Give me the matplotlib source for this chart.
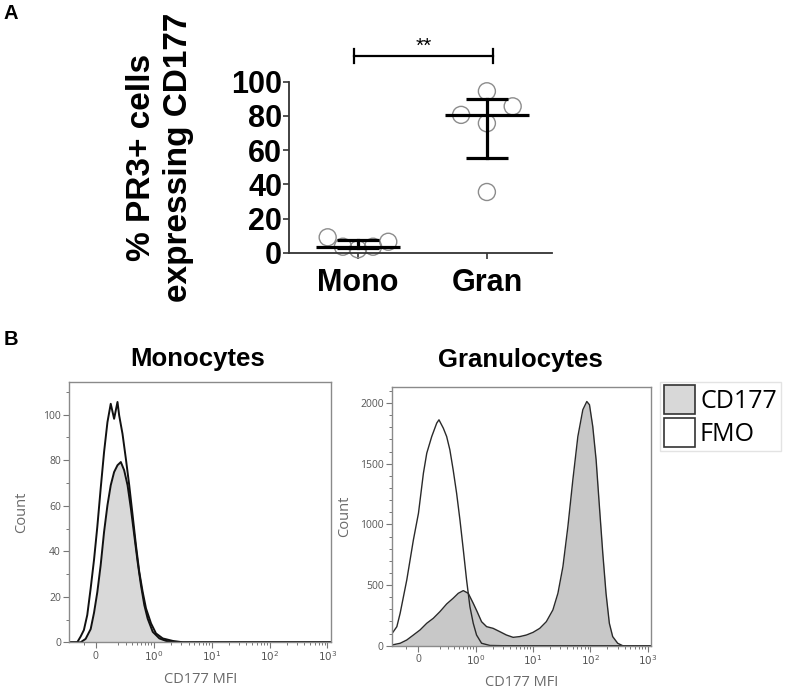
import numpy as np
import matplotlib
matplotlib.use('Agg')
import matplotlib.pyplot as plt
from matplotlib.patches import Patch
from matplotlib.ticker import FixedLocator, FixedFormatter, NullFormatter

# ---------------- Panel A data ----------------
groups = ['Mono', 'Gran']
mono_pct = [9.0, 3.5, 2.0, 3.5, 6.4]
gran_pct = [94.4, 80.6, 85.6, 75.7, 35.5]
significance = '**'
pct_ticks = [0, 20, 40, 60, 80, 100]

# ---------------- Panel B data (CD177 MFI vs Count) ----------------
mono_fmo_mfi = [-0.25, -0.160, -0.127, -0.097, -0.068, -0.040, -0.013, 0.013, 0.040, 0.068,
                0.097, 0.127, 0.160, 0.196, 0.215, 0.256, 0.302, 0.353, 0.411, 0.475,
                0.548, 0.631, 0.725, 0.891, 1.09, 1.43, 2.14, 3.2, 1150]
mono_fmo_count = [0, 0, 2.5, 5.4, 12, 23.7, 36.3, 50.7, 67.5, 83.6,
                  96.7, 104.8, 98.2, 105.6, 99.7, 91.6, 80.6, 69, 55.8, 42.7,
                  30.9, 22.2, 14.9, 8.3, 3.9, 1.7, 0.6, 0, 0]
mono_cd177_mfi = [-0.25, -0.127, -0.082, -0.040, -0.013, 0.013, 0.040, 0.068, 0.097, 0.127,
                  0.160, 0.196, 0.235, 0.278, 0.327, 0.381, 0.442, 0.511, 0.588, 0.677,
                  0.777, 0.955, 1.25, 1.64, 2.45, 1150]
mono_cd177_count = [0, 0, 1.5, 5.8, 13, 22, 33.9, 48.5, 60.2, 69,
                    74.8, 77.8, 79.2, 75.6, 69, 58.7, 47, 35.3, 25.1, 16.3,
                    10.4, 4.6, 1.7, 0.6, 0, 0]

gran_fmo_mfi = [-0.25, -0.192, -0.157, -0.094, -0.038, 0.003, 0.043, 0.071, 0.115, 0.164,
                0.188, 0.239, 0.283, 0.330, 0.384, 0.448, 0.518, 0.598, 0.686, 0.788,
                0.904, 1.036, 1.27, 1.78, 3.0, 1150]
gran_fmo_count = [100, 157, 267, 542, 872, 1092, 1422, 1587, 1724, 1835,
                  1862, 1793, 1724, 1615, 1450, 1257, 1037, 790, 542, 322,
                  185, 88, 20, 2, 0, 0]
gran_cd177_mfi = [-0.25, -0.157, -0.094, -0.038, 0.016, 0.071, 0.130, 0.199, 0.283, 0.384,
                  0.482, 0.597, 0.736, 0.903, 1.06, 1.27, 1.56, 2.03, 2.65, 3.47,
                  4.53, 5.91, 7.72, 10.1, 13.2, 17.2, 22.4, 27.4, 33.5, 40.9,
                  49.9, 61.0, 74.5, 87.4, 97.3, 111, 127, 145, 166, 189,
                  216, 247, 302, 369, 1150]
gran_cd177_count = [6, 20, 47, 88, 130, 185, 226, 281, 344, 391,
                    432, 454, 432, 350, 281, 198, 157, 143, 116, 88,
                    69, 75, 88, 110, 143, 198, 295, 432, 652, 982,
                    1367, 1724, 1945, 2013, 1986, 1807, 1532, 1147, 762, 432,
                    185, 75, 20, 0, 0]

mfi_ticks = [0, 1, 10, 100, 1000]
mfi_ticklabels = ['0', '$10^0$', '$10^1$', '$10^2$', '$10^3$']
mfi_minor = [-0.1, 0.2, 0.3, 0.4, 0.5, 0.6, 0.7, 0.8, 0.9,
             2, 3, 4, 5, 6, 7, 8, 9, 20, 30, 40, 50, 60, 70, 80, 90,
             200, 300, 400, 500, 600, 700, 800, 900]
mono_count_ticks = [0, 20, 40, 60, 80, 100]
mono_count_minor = [10, 30, 50, 70, 90, 110]
gran_count_ticks = [0, 500, 1000, 1500, 2000]
gran_count_minor = [100, 200, 300, 400, 600, 700, 800, 900, 1100, 1200, 1300, 1400,
                    1600, 1700, 1800, 1900, 2100]
legend_labels = ['CD177', 'FMO']

# ---------------- figure ----------------
W, H = 787, 696
fig = plt.figure(figsize=(W / 100, H / 100), dpi=100)


def rect(l, t, r, b):
    return [l / W, 1 - b / H, (r - l) / W, (b - t) / H]


def prism_quartiles(vals):
    v = sorted(vals)
    n = len(v)
    med = float(np.median(v))
    lower = v[: n // 2]
    upper = v[(n + 1) // 2:]
    return float(np.median(lower)), med, float(np.median(upper))


BOLD = 'Liberation Sans'

# ---- Panel A ----
axA = fig.add_axes(rect(289, 81.7, 552, 252.7))
xpos = [0, 1]
mono_off = [-0.235, -0.117, 0, 0.117, 0.235]
gran_off = [0, -0.2, 0.2, 0, 0]
for x0, vals, offs in [(xpos[0], mono_pct, mono_off), (xpos[1], gran_pct, gran_off)]:
    xs = [x0 + o for o in offs]
    axA.scatter(xs, vals, s=150, facecolors='none', edgecolors='#8c8c8c',
                linewidths=1.0, zorder=2, clip_on=False)
    q1, med, q3 = prism_quartiles(vals)
    axA.plot([x0 - 0.325, x0 + 0.325], [med, med], color='black', lw=2.3,
             zorder=3, clip_on=False, solid_capstyle='butt')
    axA.plot([x0, x0], [q1, q3], color='black', lw=2.3, zorder=3, clip_on=False)
    for q in (q1, q3):
        axA.plot([x0 - 0.165, x0 + 0.165], [q, q], color='black', lw=2.3,
                 zorder=3, clip_on=False, solid_capstyle='butt')

axA.set_xlim(-0.535, 1.505)
axA.set_ylim(0, 100)
axA.set_yticks(pct_ticks)
axA.set_xticks(xpos)
axA.set_xticklabels(groups)
for s in ('top', 'right'):
    axA.spines[s].set_visible(False)
for s in ('left', 'bottom'):
    axA.spines[s].set_color('#333333')
    axA.spines[s].set_linewidth(1.3)
axA.tick_params(axis='y', length=4, width=1.2, color='#333333', pad=1,
                labelsize=22)
axA.tick_params(axis='x', length=4, width=1.2, color='#333333', pad=7,
                labelsize=22)
for lab in axA.get_yticklabels() + axA.get_xticklabels():
    lab.set_fontfamily(BOLD)
    lab.set_fontweight('bold')

# significance bracket
axA.plot([-0.03, 1.045], [115.2, 115.2], color='black', lw=1.6, clip_on=False)
for xb in (-0.03, 1.045):
    axA.plot([xb, xb], [111.1, 118.9], color='black', lw=1.6, clip_on=False)
axA.text(0.5075, 115.4, significance, ha='center', va='bottom', fontsize=15,
         family=BOLD, clip_on=False)

fig.text(160 / W, 1 - 157 / H, '% PR3+ cells\nexpressing CD177', rotation=90,
         ha='center', va='center', multialignment='center', fontsize=24,
         family=BOLD, fontweight='bold', linespacing=1.25)
fig.text(10.5 / W, 1 - 13.5 / H, 'A', ha='center', va='center', fontsize=14.5,
         family=BOLD, fontweight='bold')
fig.text(10.5 / W, 1 - 339.5 / H, 'B', ha='center', va='center', fontsize=14.5,
         family=BOLD, fontweight='bold')

# ---- Panel B ----
LIGHT = 'Open Sans'


def style_flow(ax, ymax, yt, ym):
    ax.set_xscale('asinh', linear_width=0.2)
    ax.set_xlim(-0.25, 1150)
    ax.set_ylim(0, ymax)
    ax.xaxis.set_major_locator(FixedLocator(mfi_ticks))
    ax.xaxis.set_major_formatter(FixedFormatter(mfi_ticklabels))
    ax.xaxis.set_minor_locator(FixedLocator(mfi_minor))
    ax.xaxis.set_minor_formatter(NullFormatter())
    ax.yaxis.set_major_locator(FixedLocator(yt))
    ax.yaxis.set_minor_locator(FixedLocator(ym))
    ax.yaxis.set_minor_formatter(NullFormatter())
    for s in ax.spines.values():
        s.set_color('#8a8a8a')
        s.set_linewidth(1.0)
    ax.tick_params(which='major', length=4, width=0.8, color='#777777',
                   labelsize=7.5, labelcolor='#555555', pad=2)
    ax.tick_params(which='minor', length=2.2, width=0.7, color='#777777')
    for lab in ax.get_xticklabels() + ax.get_yticklabels():
        lab.set_fontfamily(LIGHT)
    ax.set_ylabel('Count', fontsize=10.5, color='#6a6a6a', family=LIGHT)
    ax.yaxis.set_label_coords(-0.155, 0.5)
    ax.set_xlabel('CD177 MFI', fontsize=10.5, color='#6a6a6a', family=LIGHT)
    ax.xaxis.set_label_coords(0.5, -0.113)


axM = fig.add_axes(rect(69.3, 381.7, 331, 642.3))
axM.fill_between(mono_cd177_mfi, mono_cd177_count, 0, color='#d9d9d9', lw=0)
axM.plot(mono_cd177_mfi, mono_cd177_count, color='#111111', lw=1.4)
axM.plot(mono_fmo_mfi, mono_fmo_count, color='#111111', lw=1.4)
style_flow(axM, 114.5, mono_count_ticks, mono_count_minor)

axG = fig.add_axes(rect(392, 387.3, 651, 645.7))
axG.fill_between(gran_cd177_mfi, gran_cd177_count, 0, color='#c8c8c8', lw=0)
axG.plot(gran_cd177_mfi, gran_cd177_count, color='#2a2a2a', lw=1.0)
axG.plot(gran_fmo_mfi, gran_fmo_count, color='#2a2a2a', lw=1.0)
style_flow(axG, 2130, gran_count_ticks, gran_count_minor)

fig.text(198 / W, 1 - 359 / H, 'Monocytes', ha='center', va='center',
         fontsize=18.5, family=BOLD, fontweight='bold')
fig.text(520 / W, 1 - 360 / H, 'Granulocytes', ha='center', va='center',
         fontsize=18.5, family=BOLD, fontweight='bold')

handles = [Patch(facecolor='#d8d8d8', edgecolor='#333333', lw=1.2),
           Patch(facecolor='white', edgecolor='#333333', lw=1.2)]
leg = fig.legend(handles, legend_labels, loc='upper left',
                 bbox_to_anchor=(660 / W, 1 - 381.7 / H), frameon=True,
                 fancybox=False, edgecolor='#dddddd',
                 prop={'family': LIGHT, 'size': 18},
                 handlelength=1.25, handleheight=1.4, borderpad=0.15,
                 handletextpad=0.2, labelspacing=0.15, borderaxespad=0)
leg.get_frame().set_linewidth(1.0)

fig.savefig('out.png', dpi=100)
